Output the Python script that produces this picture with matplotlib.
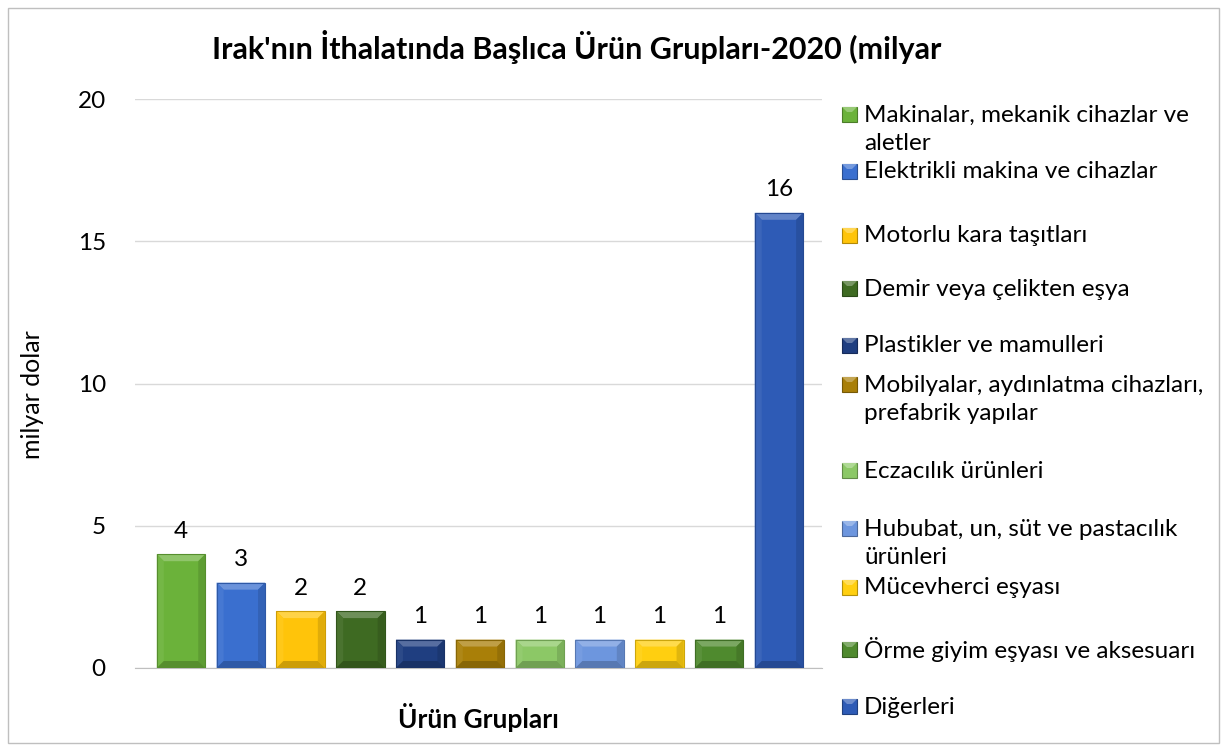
import matplotlib.pyplot as plt
import matplotlib.colors as mcolors
from matplotlib.patches import Polygon, Rectangle

plt.rcParams['font.family'] = ['Lato', 'DejaVu Sans']

categories = ["Makinalar, mekanik cihazlar ve\naletler",
              "Elektrikli makina ve cihazlar",
              "Motorlu kara taşıtları",
              "Demir veya çelikten eşya",
              "Plastikler ve mamulleri",
              "Mobilyalar, aydınlatma cihazları,\nprefabrik yapılar",
              "Eczacılık ürünleri",
              "Hububat, un, süt ve pastacılık\nürünleri",
              "Mücevherci eşyası",
              "Örme giyim eşyası ve aksesuarı",
              "Diğerleri"]
values = [4, 3, 2, 2, 1, 1, 1, 1, 1, 1, 16]
colors = ["#6BB23A", "#3A6FCF", "#FFC40A", "#3E6A22", "#1F3E80", "#A97F08",
          "#8CC866", "#6D96DE", "#FFCF10", "#4F8A2E", "#2E5BB6"]
yticks = [0, 5, 10, 15, 20]
# vertical positions (pixels from top) of legend entries
legend_y = [115, 172, 236, 289, 346, 385, 471, 529, 588, 650, 707]

W, H = 1227, 751
fig = plt.figure(figsize=(W / 100, H / 100), dpi=100)
fig.patches.append(Rectangle((8 / W, 8 / H), 1211 / W, 735 / H, transform=fig.transFigure,
                             fill=False, edgecolor="#BFBFBF", linewidth=1))

ax_l, ax_r, ax_t, ax_b = 135, 822, 99, 668
ax = fig.add_axes([ax_l / W, 1 - ax_b / H, (ax_r - ax_l) / W, (ax_b - ax_t) / H])

xs = list(range(len(values)))
xmin, xmax = -0.77, 10.72
ax.set_xlim(xmin, xmax)
ax.set_ylim(0, 20)

bars = ax.bar(xs, values, width=0.81, color=colors, edgecolor="none", zorder=2)

px_x = (ax_r - ax_l) / (xmax - xmin)
px_y = (ax_b - ax_t) / 20
bev = 7
dx, dy = bev / px_x, bev / px_y


def shade(c, f):
    r, g, b = mcolors.to_rgb(c)
    if f > 1:
        return (r + (1 - r) * (f - 1), g + (1 - g) * (f - 1), b + (1 - b) * (f - 1))
    return (r * f, g * f, b * f)


for b, c in zip(bars, colors):
    x0, w, h = b.get_x(), b.get_width(), b.get_height()
    x1, y1 = x0 + w, h
    top = [(x0, y1), (x1, y1), (x1 - dx, y1 - dy), (x0 + dx, y1 - dy)]
    left = [(x0, 0), (x0, y1), (x0 + dx, y1 - dy), (x0 + dx, dy)]
    right = [(x1, 0), (x1, y1), (x1 - dx, y1 - dy), (x1 - dx, dy)]
    bot = [(x0, 0), (x1, 0), (x1 - dx, dy), (x0 + dx, dy)]
    ax.add_patch(Polygon(top, closed=True, color=shade(c, 1.25), lw=0, zorder=3))
    ax.add_patch(Polygon(left, closed=True, color=shade(c, 1.06), lw=0, zorder=3))
    ax.add_patch(Polygon(right, closed=True, color=shade(c, 0.88), lw=0, zorder=3))
    ax.add_patch(Polygon(bot, closed=True, color=shade(c, 0.8), lw=0, zorder=3))
    ax.add_patch(Rectangle((x0, 0), w, h, fill=False, edgecolor=shade(c, 0.8), lw=0.8, zorder=4))
    ax.annotate(str(h), (x0 + w / 2, h), xytext=(0, 9), textcoords="offset points",
                ha="center", va="bottom", fontsize=17.5)

ax.set_yticks(yticks)
ax.set_yticklabels([str(t) for t in yticks], fontsize=17.5)
ax.set_xticks([])
ax.tick_params(axis="y", length=0, pad=21)
ax.grid(axis="y", color="#D9D9D9", linewidth=1, zorder=0)
ax.set_axisbelow(True)
for s in ["top", "right", "left"]:
    ax.spines[s].set_visible(False)
ax.spines["bottom"].set_color("#BFBFBF")

fig.text(33 / W, 1 - 395 / H, "milyar dolar", rotation=90, ha="center", va="center", fontsize=18)
fig.text(478 / W, 1 - 717 / H, "Ürün Grupları", ha="center", va="center", fontsize=19, fontweight="bold")
fig.text(577 / W, 1 - 47 / H, "Irak'nın İthalatında Başlıca Ürün Grupları-2020 (milyar",
         ha="center", va="center", fontsize=22, fontweight="bold")

# legend
for lab, c, y in zip(categories, colors, legend_y):
    fig.patches.append(Rectangle((842 / W, 1 - (y + 7) / H), 15 / W, 15 / H, transform=fig.transFigure,
                                 facecolor=c, edgecolor=shade(c, 0.7), linewidth=0.8))
    fig.patches.append(Polygon([(842 / W, 1 - (y - 8) / H), (857 / W, 1 - (y - 8) / H),
                                (852 / W, 1 - (y - 3) / H), (847 / W, 1 - (y - 3) / H)],
                               closed=True, transform=fig.transFigure, color=shade(c, 1.3), lw=0))
    for k, line in enumerate(lab.split("\n")):
        fig.text(864 / W, 1 - (y + 29 * k) / H, line, ha="left", va="center", fontsize=17.5)

fig.savefig("out.png", dpi=100)
